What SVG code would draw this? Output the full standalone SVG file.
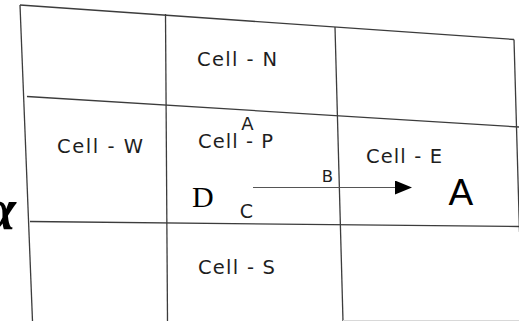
<svg xmlns="http://www.w3.org/2000/svg" width="519" height="321" viewBox="0 0 519 321">
  <defs>
    <style>
      .grid line { stroke: #3c3c3c; stroke-width: 1.3; fill: none; }
      .cell { font-family: "DejaVu Sans", "Liberation Sans", sans-serif; font-size: 19.5px; fill: #1e1e1e; }
      .pt { font-family: "DejaVu Sans", "Liberation Sans", sans-serif; font-size: 18px; fill: #1e1e1e; text-anchor: middle; }
      .conn { stroke: #555; stroke-width: 1.2; fill: none; }
    </style>
    <marker id="arrowhead" markerUnits="userSpaceOnUse" markerWidth="17" markerHeight="15" refX="0" refY="7" orient="auto">
      <polygon points="0,0 17,7 0,14" fill="#000"/>
    </marker>
  </defs>
  <rect width="519" height="321" fill="#fff"/>

  <g id="grid" class="grid">
    <line x1="20" y1="5" x2="514" y2="39.5"/>
    <line x1="27" y1="96.5" x2="519" y2="127"/>
    <line x1="30" y1="221.5" x2="519" y2="226.5"/>
    <line x1="20" y1="5" x2="32.5" y2="321"/>
    <line x1="165.5" y1="14" x2="167.5" y2="321"/>
    <line x1="335" y1="27" x2="343" y2="321"/>
    <line x1="514" y1="39.5" x2="519.5" y2="232"/>
    <line x1="343" y1="320.5" x2="519" y2="320.5" style="stroke:#d8d8d8;stroke-width:1"/>
  </g>

  <g id="cell-n"><text class="cell" x="197" y="66" textLength="80" lengthAdjust="spacing">Cell - N</text></g>
  <g id="cell-w"><text class="cell" x="57" y="153" textLength="86" lengthAdjust="spacing">Cell - W</text></g>
  <g id="cell-p"><text class="cell" x="198" y="147.5" textLength="75" lengthAdjust="spacing">Cell - P</text></g>
  <g id="cell-e"><text class="cell" x="366" y="162.5" textLength="76" lengthAdjust="spacing">Cell - E</text></g>
  <g id="cell-s"><text class="cell" x="198" y="274" textLength="77" lengthAdjust="spacing">Cell - S</text></g>

  <g id="point-a-top"><text class="pt" x="247.5" y="129.5">A</text></g>
  <g id="point-b"><text class="pt" x="327.5" y="181.7" style="font-size:16.5px">B</text></g>
  <g id="point-c"><text class="pt" x="246.5" y="218.3" style="font-size:19px">C</text></g>
  <g id="point-d"><text x="192" y="207" style="font-family:'Liberation Serif','Times New Roman',serif;font-size:30px;fill:#000">D</text></g>
  <g id="point-a-big"><text x="448.5" y="205" style="font-family:'Liberation Sans',Arial,sans-serif;font-size:37px;fill:#000">A</text></g>
  <g id="alpha"><text x="16" y="229" text-anchor="end" style="font-family:'Liberation Serif','Times New Roman',serif;font-style:italic;font-weight:bold;font-size:60px;fill:#000">α</text></g>

  <g id="connectors">
    <line class="conn" x1="253" y1="187.5" x2="395" y2="187.5" marker-end="url(#arrowhead)"/>
  </g>
</svg>
